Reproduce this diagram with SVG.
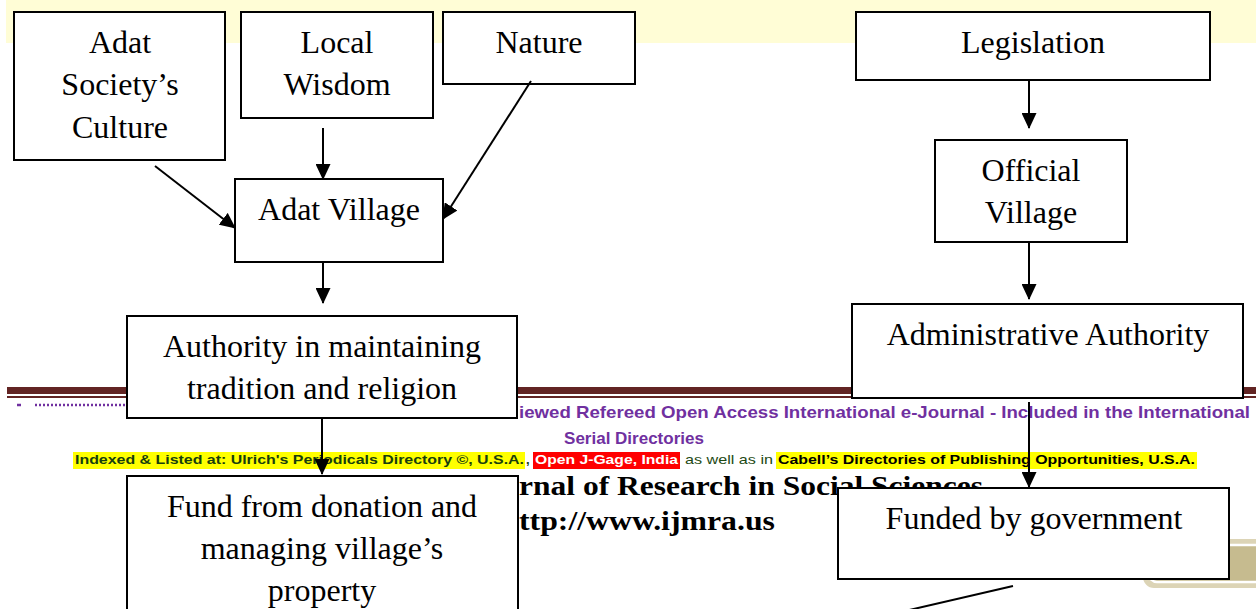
<svg xmlns="http://www.w3.org/2000/svg" width="1256" height="609" viewBox="0 0 1256 609">
<style>
.box{fill:#fff;stroke:#000;stroke-width:2}
.lbl{font-family:"Liberation Serif","Times New Roman",serif;font-size:32px;fill:#000;text-anchor:middle}
.conn{stroke:#000;stroke-width:2;fill:none}
.purp{font-family:"Liberation Sans",Arial,sans-serif;font-weight:bold;font-size:17px;fill:#7030A0}
.idx{font-family:"Liberation Sans",Arial,sans-serif;font-size:13px}
.ttl{font-family:"Liberation Serif","Times New Roman",serif;font-weight:bold;font-size:27px;fill:#000}
</style>
<defs>
<marker id="ah" viewBox="0 0 16 15" refX="15" refY="7.5" markerWidth="16" markerHeight="15" markerUnits="userSpaceOnUse" orient="auto">
<path d="M0,0 L16,7.5 L0,15 z" fill="#000"/>
</marker>
</defs>
<rect width="1256" height="609" fill="#fff"/>
<g id="page-background">
<rect x="6" y="0" width="1250" height="43" fill="#FFFDD6"/>
<rect x="7" y="387" width="1249" height="7" fill="#622423"/>
<rect x="7" y="396" width="1249" height="2" fill="#622423"/>
<line x1="17" y1="405" x2="21" y2="405" stroke="#7030A0" stroke-width="2.5"/>
<line x1="35" y1="405" x2="127" y2="405" stroke="#7030A0" stroke-width="2.5" stroke-dasharray="2 2"/>
<text class="purp" x="519" y="418" textLength="731" lengthAdjust="spacingAndGlyphs">iewed Refereed Open Access International e-Journal - Included in the International</text>
<text class="purp" x="634" y="444" text-anchor="middle">Serial Directories</text>
<rect x="73" y="452" width="452" height="17" fill="#FFFF00"/>
<text class="idx" x="75" y="464" font-weight="bold" fill="#183E0C" textLength="449" lengthAdjust="spacingAndGlyphs">Indexed &amp; Listed at: Ulrich's Periodicals Directory ©, U.S.A.</text>
<text class="idx" x="526" y="464" font-weight="bold" fill="#183E0C">,</text>
<rect x="533" y="452" width="147" height="17" fill="#FF0000"/>
<text class="idx" x="535" y="464" font-weight="bold" fill="#fff" textLength="143" lengthAdjust="spacingAndGlyphs">Open J-Gage, India</text>
<text class="idx" x="685" y="464" fill="#1E4A14" textLength="88" lengthAdjust="spacingAndGlyphs">as well as in</text>
<rect x="776" y="452" width="421" height="17" fill="#FFFF00"/>
<text class="idx" x="778" y="464" font-weight="bold" fill="#000" textLength="417" lengthAdjust="spacingAndGlyphs">Cabell’s Directories of Publishing Opportunities, U.S.A.</text>
<text class="ttl" x="519" y="495" textLength="464" lengthAdjust="spacingAndGlyphs">rnal of Research in Social Sciences</text>
<text class="ttl" x="519" y="530" textLength="256" lengthAdjust="spacingAndGlyphs">ttp://www.ijmra.us</text>
<rect x="1143" y="539" width="130" height="49" rx="11" fill="#DCD4B6"/>
<rect x="1149" y="545" width="124" height="37" rx="8" fill="#C6BB8F" stroke="#fff" stroke-width="2.5"/>
</g>
<g id="nodes">
<g id="adat-culture"><rect class="box" x="14" y="12" width="211" height="148"/><text class="lbl" x="120" y="53">Adat</text><text class="lbl" x="120" y="95">Society’s</text><text class="lbl" x="120" y="138">Culture</text></g>
<g id="local-wisdom"><rect class="box" x="241" y="12" width="192" height="106"/><text class="lbl" x="337" y="53">Local</text><text class="lbl" x="337" y="95">Wisdom</text></g>
<g id="nature"><rect class="box" x="443" y="12" width="192" height="72"/><text class="lbl" x="539" y="53">Nature</text></g>
<g id="legislation"><rect class="box" x="856" y="12" width="354" height="68"/><text class="lbl" x="1033" y="53">Legislation</text></g>
<g id="adat-village"><rect class="box" x="235" y="179" width="208" height="83"/><text class="lbl" x="339" y="220">Adat Village</text></g>
<g id="official-village"><rect class="box" x="935" y="140" width="192" height="102"/><text class="lbl" x="1031" y="181">Official</text><text class="lbl" x="1031" y="223">Village</text></g>
<g id="authority-tradition"><rect class="box" x="127" y="316" width="390" height="102"/><text class="lbl" x="322" y="357">Authority in maintaining</text><text class="lbl" x="322" y="399">tradition and religion</text></g>
<g id="administrative-authority"><rect class="box" x="852" y="304" width="391" height="94"/><text class="lbl" x="1048" y="345">Administrative Authority</text></g>
<g id="fund-donation"><rect class="box" x="127" y="476" width="391" height="140"/><text class="lbl" x="322" y="517">Fund from donation and</text><text class="lbl" x="322" y="559">managing village’s</text><text class="lbl" x="322" y="601">property</text></g>
<g id="funded-government"><rect class="box" x="838" y="488" width="391" height="91"/><text class="lbl" x="1034" y="529">Funded by government</text></g>
</g>
<g id="connectors">
<line class="conn" x1="155" y1="166" x2="235" y2="228" marker-end="url(#ah)"/>
<line class="conn" x1="323" y1="128" x2="323" y2="179" marker-end="url(#ah)"/>
<line class="conn" x1="531" y1="81" x2="443" y2="219" marker-end="url(#ah)"/>
<line class="conn" x1="323" y1="263" x2="323" y2="303" marker-end="url(#ah)"/>
<line class="conn" x1="322" y1="419" x2="322" y2="474" marker-end="url(#ah)"/>
<line class="conn" x1="1029" y1="80" x2="1029" y2="128" marker-end="url(#ah)"/>
<line class="conn" x1="1029" y1="242" x2="1029" y2="299" marker-end="url(#ah)"/>
<line class="conn" x1="1029" y1="402" x2="1029" y2="487" marker-end="url(#ah)"/>
<line class="conn" x1="1013" y1="586" x2="905" y2="611"/>
</g>
</svg>
